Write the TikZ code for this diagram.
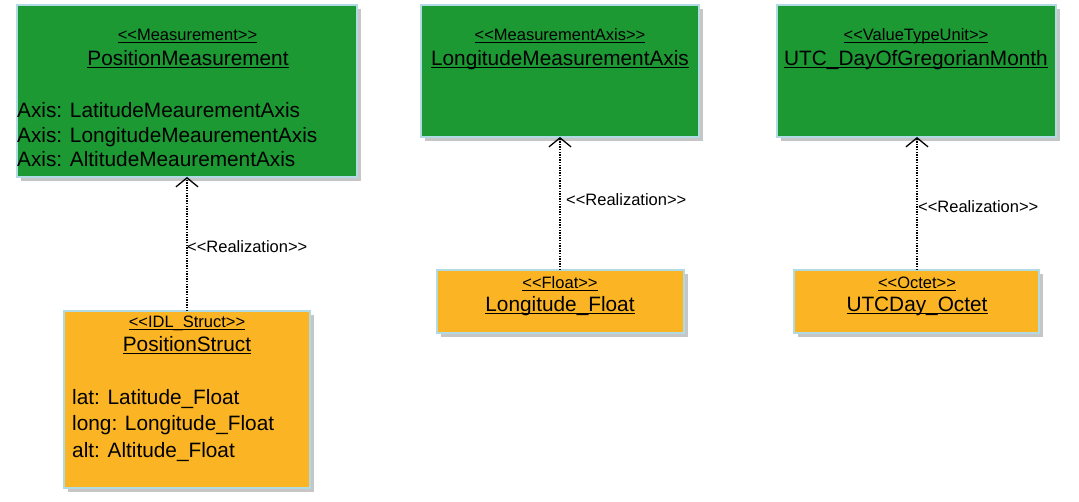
\documentclass[tikz,border=0pt]{standalone}
\usepackage{fontspec}
\setmainfont{Liberation Sans}
\usetikzlibrary{arrows.meta,shadows}
\definecolor{umlgreen}{RGB}{29,153,52}
\definecolor{umlorange}{RGB}{251,181,36}
\definecolor{umlborder}{RGB}{176,218,228}
\newcommand\myul[1]{\setbox0\hbox{#1}\rlap{\rule[-2.2pt]{\wd0}{0.9pt}}\box0}
\tikzset{
  box/.style={draw=umlborder, line width=1.5pt, inner sep=0pt, outer sep=0pt,
    drop shadow={opacity=0.45, shadow xshift=4pt, shadow yshift=-4pt}},
  greenbox/.style={box, fill=umlgreen},
  orangebox/.style={box, fill=umlorange},
  stereo/.style={anchor=base, inner sep=0pt, font=\fontsize{16.5}{19}\selectfont},
  cname/.style={anchor=base, inner sep=0pt, font=\fontsize{20.8}{24}\selectfont},
  attr/.style={anchor=base west, inner sep=0pt, font=\fontsize{20.8}{24}\selectfont},
  rlabel/.style={anchor=base west, inner sep=0pt, font=\fontsize{16.5}{19}\selectfont},
  realize/.style={draw=black, line width=1.3pt, dash pattern=on 1.3pt off 1.3pt,
    -{Straight Barb[length=9pt,width=22pt,line width=1.3pt]}}
}
\begin{document}
\begin{tikzpicture}[x=1pt,y=-1pt]
\useasboundingbox (0,0) rectangle (1079,502);
% boxes
\path[greenbox] (17,5) rectangle (357,177);
\coordinate (pmB) at (187,177);
\path[greenbox] (421,5) rectangle (699,137);
\coordinate (lmB) at (560,137);
\path[greenbox] (777,5) rectangle (1056,137);
\coordinate (utB) at (917,137);
\path[orangebox] (64,311) rectangle (310,488);
\coordinate (psT) at (187,311);
\path[orangebox] (437,270) rectangle (684,333);
\coordinate (lfT) at (560,270);
\path[orangebox] (794,270) rectangle (1039,333);
\coordinate (uoT) at (917,270);
% PositionMeasurement
\node[stereo] (pmS) at (187.5,41) {\myul{<{}<Measurement>{}>}};
\node[cname] (pmN) at (188,66) {\myul{PositionMeasurement}};
\node[attr] (pmA1) at (17,118) {Axis: LatitudeMeaurementAxis};
\node[attr] (pmA2) at (17,143) {Axis: LongitudeMeaurementAxis};
\node[attr] (pmA3) at (17,167) {Axis: AltitudeMeaurementAxis};
% LongitudeMeasurementAxis
\node[stereo] (lmS) at (560,41) {\myul{<{}<MeasurementAxis>{}>}};
\node[cname] (lmN) at (560,66) {\myul{LongitudeMeasurementAxis}};
% UTC_DayOfGregorianMonth
\node[stereo] (utS) at (916,41) {\myul{<{}<ValueTypeUnit>{}>}};
\node[cname] (utN) at (916,66) {\myul{UTC\_DayOfGregorianMonth}};
% PositionStruct
\node[stereo] (psS) at (187,328) {\myul{<{}<IDL\_Struct>{}>}};
\node[cname] (psN) at (187,352) {\myul{PositionStruct}};
\node[attr] (psA1) at (72,405) {lat: Latitude\_Float};
\node[attr] (psA2) at (72,431) {long: Longitude\_Float};
\node[attr] (psA3) at (72,457) {alt: Altitude\_Float};
% Longitude_Float
\node[stereo] (lfS) at (560,289) {\myul{<{}<Float>{}>}};
\node[cname] (lfN) at (560,312) {\myul{Longitude\_Float}};
% UTCDay_Octet
\node[stereo] (uoS) at (917,289) {\myul{<{}<Octet>{}>}};
\node[cname] (uoN) at (917,312) {\myul{UTCDay\_Octet}};
% connectors
\draw[realize] (psT) -- (pmB);
\draw[realize] (lfT) -- (lmB);
\draw[realize] (uoT) -- (utB);
\node[rlabel] (r1) at (187,253) {<{}<Realization>{}>};
\node[rlabel] (r2) at (566,206) {<{}<Realization>{}>};
\node[rlabel] (r3) at (918,213) {<{}<Realization>{}>};
\end{tikzpicture}
\end{document}
